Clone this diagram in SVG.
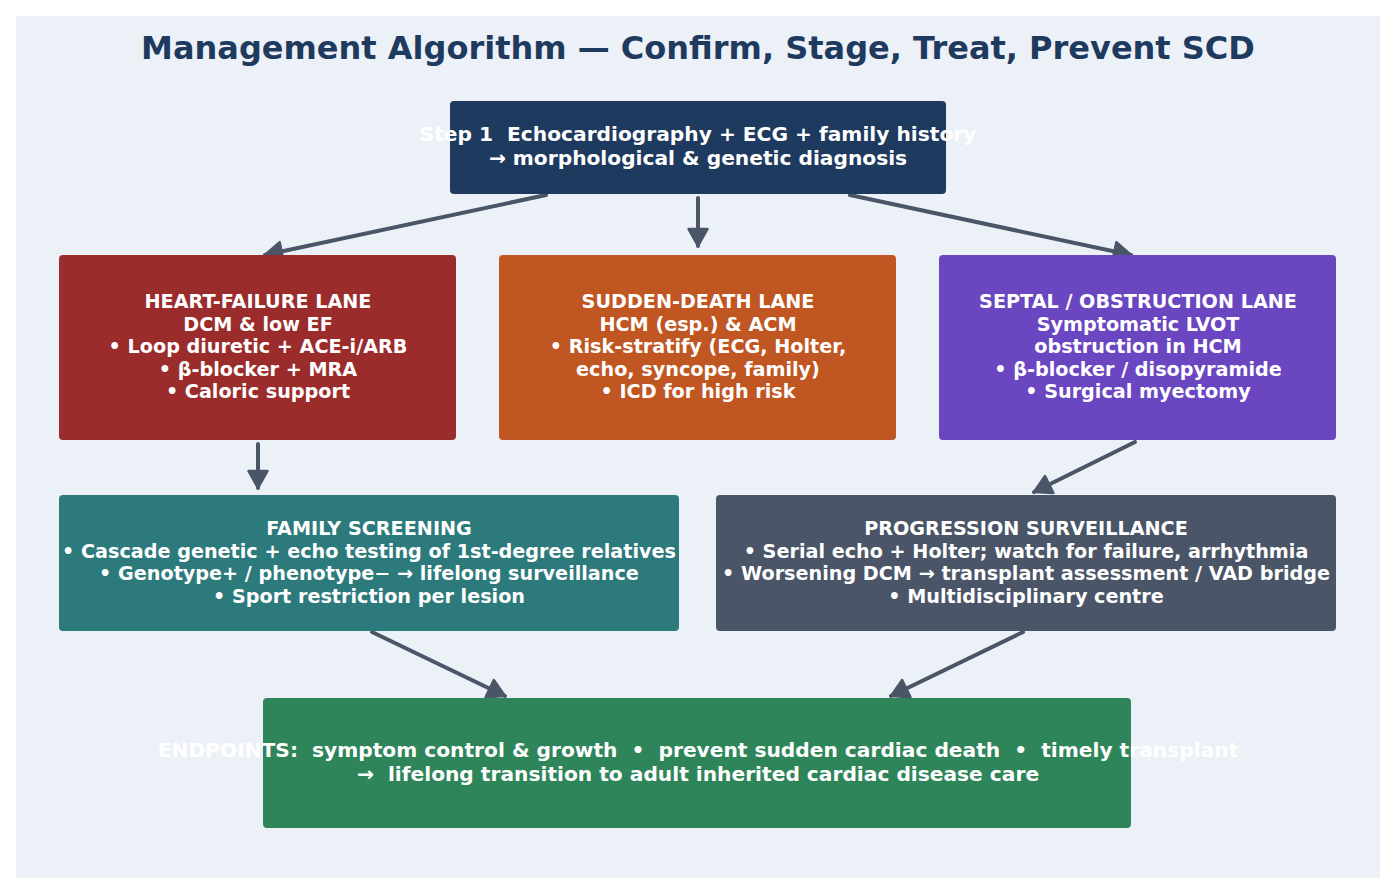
<svg xmlns="http://www.w3.org/2000/svg" width="1396" height="894" viewBox="0 0 1396 894">
<defs>
<style>
.t{font-family:"DejaVu Sans",sans-serif;font-weight:bold;fill:#FFFFFF;text-anchor:middle;dominant-baseline:central;white-space:pre}
.n{font-size:19.2px}
.w{font-size:20.2px}
.c{stroke:#4A5568;stroke-width:4;fill:none;stroke-linecap:round}
</style>
<marker id="ah" markerUnits="userSpaceOnUse" markerWidth="22" markerHeight="24" viewBox="-2 -2 22 24" refX="17" refY="10" orient="auto">
<path d="M0,0.5 L17,10 L0,19.5 Z" fill="#4A5568" stroke="#4A5568" stroke-width="2.5" stroke-linejoin="round"/>
</marker>
</defs>
<rect x="0" y="0" width="1396" height="894" fill="#FFFFFF"/>
<rect x="16" y="16" width="1364" height="862" fill="#ECF1F7"/>
<text x="698" y="48" class="t" style="font-size:32px;fill:#1F3A5F">Management Algorithm — Confirm, Stage, Treat, Prevent SCD</text>
<g id="connectors">
<line class="c" x1="546" y1="195" x2="265" y2="255" marker-end="url(#ah)"/>
<line class="c" x1="698" y1="198" x2="698" y2="246" marker-end="url(#ah)"/>
<line class="c" x1="850" y1="195" x2="1131" y2="255" marker-end="url(#ah)"/>
<line class="c" x1="258" y1="444" x2="258" y2="488" marker-end="url(#ah)"/>
<line class="c" x1="1135" y1="442" x2="1034" y2="492" marker-end="url(#ah)"/>
<line class="c" x1="372" y1="632" x2="505" y2="696" marker-end="url(#ah)"/>
<line class="c" x1="1023" y1="632" x2="891" y2="696" marker-end="url(#ah)"/>
</g>
<g id="step1">
<rect x="450" y="101" width="496" height="93" rx="4" fill="#1F3A5F"/>
<text class="t w" x="698" y="134">Step 1  Echocardiography + ECG + family history</text>
<text class="t w" x="698" y="158">→ morphological &amp; genetic diagnosis</text>
</g>
<g id="hf">
<rect x="59" y="255" width="397" height="185" rx="4" fill="#9B2C2C"/>
<text class="t n" x="258" y="301">HEART-FAILURE LANE</text>
<text class="t n" x="258" y="324">DCM &amp; low EF</text>
<text class="t n" x="258" y="346">• Loop diuretic + ACE-i/ARB</text>
<text class="t n" x="258" y="369">• β-blocker + MRA</text>
<text class="t n" x="258" y="391">• Caloric support</text>
</g>
<g id="sd">
<rect x="499" y="255" width="397" height="185" rx="4" fill="#C05621"/>
<text class="t n" x="698" y="301">SUDDEN-DEATH LANE</text>
<text class="t n" x="698" y="324">HCM (esp.) &amp; ACM</text>
<text class="t n" x="698" y="346">• Risk-stratify (ECG, Holter,</text>
<text class="t n" x="698" y="369">echo, syncope, family)</text>
<text class="t n" x="698" y="391">• ICD for high risk</text>
</g>
<g id="septal">
<rect x="939" y="255" width="397" height="185" rx="4" fill="#6B46C1"/>
<text class="t n" x="1138" y="301">SEPTAL / OBSTRUCTION LANE</text>
<text class="t n" x="1138" y="324">Symptomatic LVOT</text>
<text class="t n" x="1138" y="346">obstruction in HCM</text>
<text class="t n" x="1138" y="369">• β-blocker / disopyramide</text>
<text class="t n" x="1138" y="391">• Surgical myectomy</text>
</g>
<g id="family">
<rect x="59" y="495" width="620" height="136" rx="4" fill="#2C7A7B"/>
<text class="t n" x="369" y="528">FAMILY SCREENING</text>
<text class="t n" x="369" y="551">• Cascade genetic + echo testing of 1st-degree relatives</text>
<text class="t n" x="369" y="573">• Genotype+ / phenotype− → lifelong surveillance</text>
<text class="t n" x="369" y="596">• Sport restriction per lesion</text>
</g>
<g id="progression">
<rect x="716" y="495" width="620" height="136" rx="4" fill="#4A5568"/>
<text class="t n" x="1026" y="528">PROGRESSION SURVEILLANCE</text>
<text class="t n" x="1026" y="551">• Serial echo + Holter; watch for failure, arrhythmia</text>
<text class="t n" x="1026" y="573">• Worsening DCM → transplant assessment / VAD bridge</text>
<text class="t n" x="1026" y="596">• Multidisciplinary centre</text>
</g>
<g id="endpoints">
<rect x="263" y="698" width="868" height="130" rx="4" fill="#2F855A"/>
<text class="t w" x="698" y="750">ENDPOINTS:  symptom control &amp; growth  •  prevent sudden cardiac death  •  timely transplant</text>
<text class="t w" x="698" y="774">→  lifelong transition to adult inherited cardiac disease care</text>
</g>
</svg>
